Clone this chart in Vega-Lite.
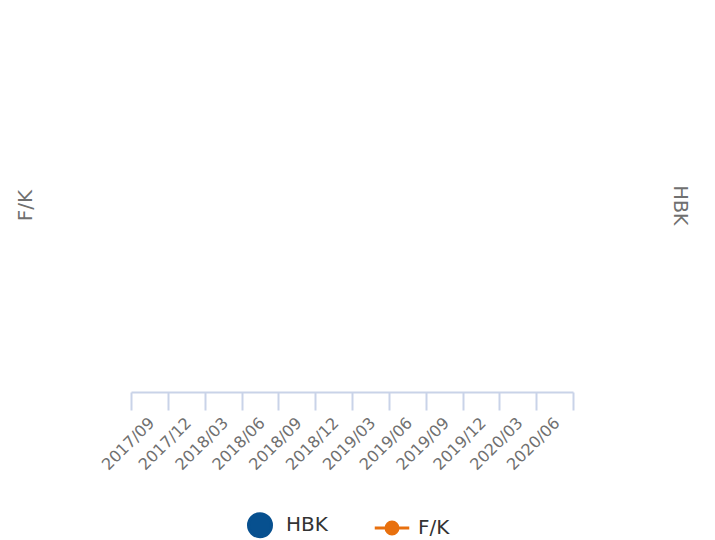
{
  "$schema": "https://vega.github.io/schema/vega-lite/v6.json",
  "width": 442,
  "height": 374,
  "autosize": {"type": "none"},
  "padding": {"left": 131, "top": 18, "right": 142, "bottom": 148},
  "background": "white",
  "config": {
    "view": {"stroke": null},
    "font": "DejaVu Sans"
  },
  "data": {
    "values": [
      {"date": "2017/09", "HBK": null, "FK": null},
      {"date": "2017/12", "HBK": null, "FK": null},
      {"date": "2018/03", "HBK": null, "FK": null},
      {"date": "2018/06", "HBK": null, "FK": null},
      {"date": "2018/09", "HBK": null, "FK": null},
      {"date": "2018/12", "HBK": null, "FK": null},
      {"date": "2019/03", "HBK": null, "FK": null},
      {"date": "2019/06", "HBK": null, "FK": null},
      {"date": "2019/09", "HBK": null, "FK": null},
      {"date": "2019/12", "HBK": null, "FK": null},
      {"date": "2020/03", "HBK": null, "FK": null},
      {"date": "2020/06", "HBK": null, "FK": null}
    ]
  },
  "encoding": {
    "x": {
      "field": "date",
      "type": "ordinal",
      "scale": {"paddingInner": 0, "paddingOuter": 0},
      "axis": {
        "title": null,
        "bandPosition": 0.5,
        "tickBand": "extent",
        "tickSize": 18,
        "tickColor": "#c9d3e8",
        "tickWidth": 2,
        "domainColor": "#c9d3e8",
        "domainWidth": 2,
        "labelAngle": -45,
        "labelAlign": "right",
        "labelBaseline": "middle",
        "labelPadding": 10,
        "labelOffset": 2,
        "labelFontSize": 16,
        "labelColor": "#707070",
        "grid": false
      }
    }
  },
  "layer": [
    {
      "mark": {"type": "bar"},
      "encoding": {
        "y": {
          "field": "HBK",
          "type": "quantitative",
          "scale": {"domain": [0, 1]},
          "axis": {
            "orient": "right",
            "title": "HBK",
            "titleFontSize": 19,
            "titleFontWeight": "normal",
            "titleColor": "#707070",
            "titleAngle": 90,
            "titleBaseline": "middle",
            "titleX": 106,
            "labels": false,
            "ticks": false,
            "domain": false,
            "grid": false
          }
        },
        "color": {
          "datum": "HBK",
          "scale": {"domain": ["HBK", "F/K"], "range": ["#07508f", "#e8700e"]},
          "legend": {
            "title": null,
            "orient": "none",
            "legendX": 116,
            "legendY": 494,
            "padding": 0,
            "direction": "horizontal",
            "symbolSize": 529,
            "symbolStrokeWidth": 3,
            "labelFontSize": 20,
            "labelColor": "#333333",
            "labelOffset": 13,
            "columnPadding": 40,
            "encode": {
              "symbols": {
                "update": {
                  "shape": {"signal": "datum.value === 'HBK' ? 'circle' : 'M-1.5,0H1.5M-0.52,0A0.52,0.52 0 1,0 0.52,0A0.52,0.52 0 1,0 -0.52,0Z'"},
                  "fill": {"signal": "datum.value === 'HBK' ? '#07508f' : '#e8700e'"},
                  "stroke": {"signal": "datum.value === 'HBK' ? null : '#e8700e'"},
                  "strokeWidth": {"value": 3},
                  "opacity": {"value": 1},
                  "fillOpacity": {"value": 1}
                }
              }
            }
          }
        }
      }
    },
    {
      "mark": {"type": "line", "point": true},
      "encoding": {
        "y": {
          "field": "FK",
          "type": "quantitative",
          "scale": {"domain": [0, 1]},
          "axis": {
            "orient": "left",
            "title": "F/K",
            "titleFontSize": 20,
            "titleFontWeight": "normal",
            "titleColor": "#707070",
            "titleAngle": -90,
            "titleBaseline": "middle",
            "titleX": -106,
            "labels": false,
            "ticks": false,
            "domain": false,
            "grid": false
          }
        },
        "color": {"datum": "F/K"}
      }
    }
  ],
  "resolve": {"scale": {"y": "independent"}}
}
